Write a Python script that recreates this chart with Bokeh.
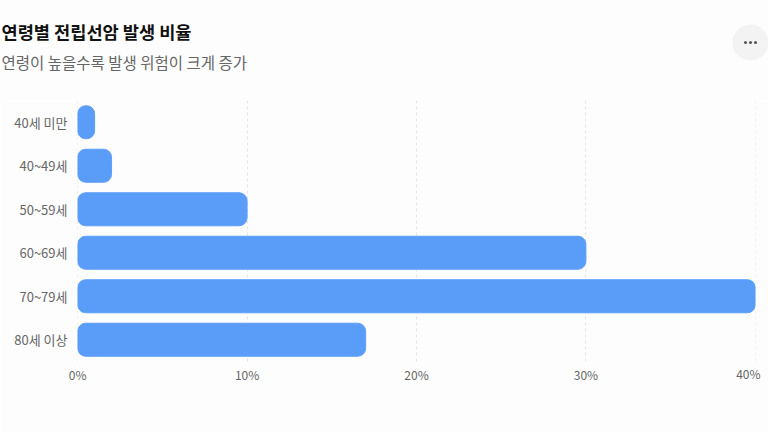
from bokeh.plotting import figure
from bokeh.layouts import column
from bokeh.models import Label, FactorRange, Range1d, FixedTicker, LinearAxis
from bokeh.embed import file_html
from bokeh.resources import INLINE

categories = ["40세 미만", "40~49세", "50~59세", "60~69세", "70~79세", "80세 이상"]
values = [1, 2, 10, 30, 40, 17]
x_ticks = [0, 10, 20, 30, 40]
title_text = "연령별 전립선암 발생 비율"
subtitle_text = "연령이 높을수록 발생 위험이 크게 증가"
FONT = "Noto Sans CJK KR"
BG = "#fdfdfd"
HEAD = 100
FL, FB = 77, 361  # frame left / bottom in page pixels

# header strip: title, subtitle and the menu button
h = figure(width=768, height=HEAD, output_backend="svg", toolbar_location=None,
           x_range=Range1d(0, 768), y_range=Range1d(HEAD, 0),
           x_axis_type=None, y_axis_type=None, frame_align=False,
           min_border=0, min_border_left=0, min_border_right=0, min_border_top=0, min_border_bottom=0,
           background_fill_color=BG, border_fill_color=BG, outline_line_color=None)
h.xgrid.visible = False
h.ygrid.visible = False
h.scatter(x=[750], y=[42], size=36, fill_color="#f3f3f3", line_color=None)
h.scatter(x=[745, 750, 755], y=[42, 42, 42], size=3, fill_color="#555555", line_color=None)
h.add_layout(Label(x=1, y=31, text=title_text,
                   text_font=FONT, text_font_size="17.6px", text_font_style="bold", text_color="#111111",
                   text_align="left", text_baseline="middle"))
h.add_layout(Label(x=1, y=61, text=subtitle_text,
                   text_font=FONT, text_font_size="15.5px", text_color="#666666",
                   text_align="left", text_baseline="middle"))

p = figure(width=768, height=432-HEAD, output_backend="svg", toolbar_location=None,
           y_range=FactorRange(factors=categories[::-1], range_padding=0, factor_padding=0),
           x_range=Range1d(-0.01, 40.01), frame_align=False,
           min_border_left=FL, min_border_right=13, min_border_top=0, min_border_bottom=432-FB,
           background_fill_color=BG, border_fill_color=BG, outline_line_color=None)

p.hbar(y=categories, right=values, left=0, height=0.76, fill_color="#5a9df9",
       line_color="#5f9ff9", line_width=1, border_radius=8)

p.ygrid.visible = False
p.xgrid.ticker = FixedTicker(ticks=x_ticks)
p.xgrid.grid_line_color = "#e5e5e5"
p.xgrid.grid_line_dash = "3 3"
p.xgrid.grid_line_width = 1

def style_axis(a, size):
    a.axis_line_color = None
    a.major_tick_line_color = None
    a.minor_tick_line_color = None
    a.major_label_text_font = FONT
    a.major_label_text_font_size = size
    a.major_label_text_color = "#666666"

ax = p.xaxis[0]
ax.ticker = FixedTicker(ticks=x_ticks)
ax.major_label_overrides = {t: (f"{t}%" if t != 40 else "") for t in x_ticks}
ax.major_label_standoff = -2
style_axis(ax, "12px")

ay = p.yaxis[0]
ay.major_label_standoff = 4
style_axis(ay, "13px")

# the last tick label sits a little left of its tick in the reference
p.extra_x_ranges = {"last_label": Range1d(0.403, 40.423)}
ax2 = LinearAxis(x_range_name="last_label", ticker=FixedTicker(ticks=[40]),
                 major_label_overrides={40: "40%"}, major_label_standoff=-27)
style_axis(ax2, "12px")
p.add_layout(ax2, "below")

page = column(h, p, spacing=0)
open("out.html", "w").write(file_html(page, INLINE))
